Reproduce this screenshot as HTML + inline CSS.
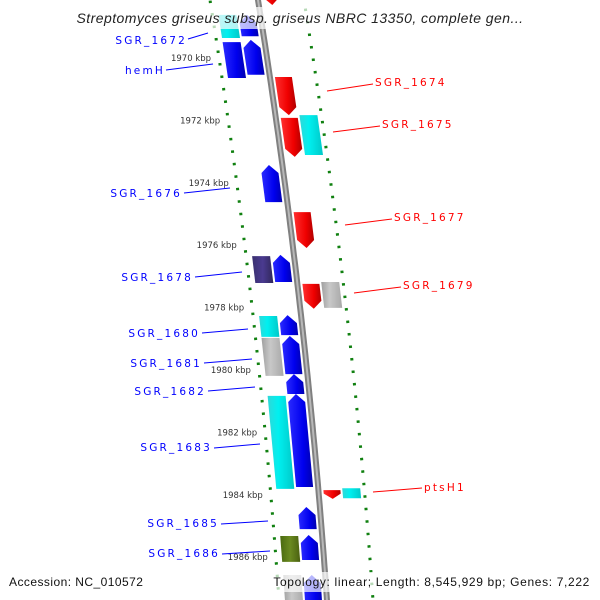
<!DOCTYPE html>
<html><head><meta charset="utf-8">
<style>
html,body{margin:0;padding:0;background:#fff;}
svg{display:block;font-family:"Liberation Sans",sans-serif;}
.lb{font-family:"DejaVu Sans",sans-serif;font-size:10.5px;letter-spacing:2.2px;}
.kb{font-family:"DejaVu Sans",sans-serif;font-size:8.5px;fill:#333;}
</style></head>
<body>
<svg id="map" width="600" height="600" viewBox="0 0 600 600" xmlns="http://www.w3.org/2000/svg">
<defs>
<linearGradient id="g-blue" x1="0" x2="1"><stop offset="0" stop-color="#2a2aff"/><stop offset="0.6" stop-color="#0000ee"/><stop offset="1" stop-color="#0000b0"/></linearGradient>
<linearGradient id="g-red" x1="0" x2="1"><stop offset="0" stop-color="#ff3030"/><stop offset="0.6" stop-color="#f00000"/><stop offset="1" stop-color="#b00000"/></linearGradient>
<linearGradient id="g-cyan" x1="0" x2="1"><stop offset="0" stop-color="#30d8d8"/><stop offset="0.4" stop-color="#00f0f0"/><stop offset="1" stop-color="#00c8c8"/></linearGradient>
<linearGradient id="g-gray" x1="0" x2="1"><stop offset="0" stop-color="#a0a0a0"/><stop offset="0.4" stop-color="#c8c8c8"/><stop offset="1" stop-color="#a8a8a8"/></linearGradient>
<linearGradient id="g-purple" x1="0" x2="1"><stop offset="0" stop-color="#3a3070"/><stop offset="0.5" stop-color="#4a3a90"/><stop offset="1" stop-color="#30285a"/></linearGradient>
<linearGradient id="g-olive" x1="0" x2="1"><stop offset="0" stop-color="#4a6a10"/><stop offset="0.5" stop-color="#6a8a20"/><stop offset="1" stop-color="#4a6010"/></linearGradient>
</defs>
<g id="ticks"></g>
<g id="backbone"></g>
<g id="genes"></g>
<g id="labels">
<g fill="#0000ff" stroke="#0000ff" class="lb">
<line x1="188" y1="39" x2="208" y2="33" stroke-width="1"/><text x="187" y="44" text-anchor="end" stroke="none">SGR_1672</text>
<line x1="166" y1="70" x2="213" y2="64"/><text x="165" y="74" text-anchor="end" stroke="none">hemH</text>
<line x1="184" y1="193" x2="230" y2="188"/><text x="182" y="197" text-anchor="end" stroke="none">SGR_1676</text>
<line x1="195" y1="277" x2="242" y2="272"/><text x="193" y="281" text-anchor="end" stroke="none">SGR_1678</text>
<line x1="202" y1="333" x2="248" y2="329"/><text x="200" y="337" text-anchor="end" stroke="none">SGR_1680</text>
<line x1="204" y1="363" x2="252" y2="359"/><text x="202" y="367" text-anchor="end" stroke="none">SGR_1681</text>
<line x1="208" y1="391" x2="255" y2="387"/><text x="206" y="395" text-anchor="end" stroke="none">SGR_1682</text>
<line x1="214" y1="448" x2="260" y2="444"/><text x="212" y="451" text-anchor="end" stroke="none">SGR_1683</text>
<line x1="221" y1="524" x2="268" y2="521"/><text x="219" y="527" text-anchor="end" stroke="none">SGR_1685</text>
<line x1="222" y1="554" x2="270" y2="551"/><text x="220" y="557" text-anchor="end" stroke="none">SGR_1686</text>
</g>
<g fill="#ff0000" stroke="#ff0000" class="lb">
<line x1="327" y1="91" x2="373" y2="84"/><text x="375" y="86" stroke="none">SGR_1674</text>
<line x1="333" y1="132" x2="380" y2="126"/><text x="382" y="128" stroke="none">SGR_1675</text>
<line x1="345" y1="225" x2="392" y2="219"/><text x="394" y="221" stroke="none">SGR_1677</text>
<line x1="354" y1="293" x2="401" y2="287"/><text x="403" y="289" stroke="none">SGR_1679</text>
<line x1="373" y1="492" x2="422" y2="488"/><text x="424" y="491" stroke="none">ptsH1</text>
</g>
</g>
<rect x="70" y="7" width="465" height="22" fill="#fff" opacity="0.7"/>
<text x="300" y="23" text-anchor="middle" font-size="14" font-style="italic" letter-spacing="0.45" fill="#222">Streptomyces griseus subsp. griseus NBRC 13350, complete gen...</text>
<rect x="268" y="572" width="328" height="20" fill="#fff" opacity="0.7"/>
<text x="9" y="586" font-size="12" letter-spacing="0.45" fill="#111">Accession: NC_010572</text>
<text x="590" y="586" font-size="12" letter-spacing="0.65" fill="#111" text-anchor="end">Topology: linear; Length: 8,545,929 bp; Genes: 7,222</text>
</svg>
<script>
const geneStart=[1967.7,1968.62,1968.62,1969.49,1969.42,1970.61,1971.92,1971.83,1973.43,1974.94,1976.35,1976.31,1977.24,1977.18,1978.27,1978.24,1978.97,1978.91,1980.13,1980.83,1980.77,1983.85,1983.79,1984.39,1985.32,1985.29,1986.57,1986.57];
const geneEnd=[1968.3,1969.36,1969.30,1970.64,1970.54,1971.83,1973.17,1973.11,1974.62,1976.09,1977.21,1977.18,1978.04,1978.01,1978.94,1978.88,1980.19,1980.13,1980.77,1983.81,1983.75,1984.13,1984.11,1985.10,1986.15,1986.09,1988.0,1988.0];
const geneLane=[1,-2,-1,-2,-1,1,1,2,-1,1,-2,-1,1,2,-2,-1,-2,-1,-1,-2,-1,1,2,-1,-2,-1,-2,-1];
const geneStrand=[1,0,-1,0,-1,1,1,0,-1,1,0,-1,1,0,0,-1,0,-1,-1,0,-1,1,0,-1,0,-1,0,-1];
const geneType=["red","cyan","blue","blue","blue","red","red","cyan","blue","red","purple","blue","red","gray","cyan","blue","gray","blue","blue","cyan","blue","red","cyan","blue","olive","blue","gray","blue"];
const tickLabels=[1970,1972,1974,1976,1978,1980,1982,1984,1986];
const NS="http://www.w3.org/2000/svg";
function yOf(k){return 58+(k-1970)*31.2;}
function bb(y){return 258+0.1602*y-7.54e-5*y*y;}
const laneOff={"-2":[-42,-24],"-1":[-22,-5],"1":[5,22],"2":[24,42]};
const gG=document.getElementById('genes');
for(let i=0;i<geneStart.length;i++){
  const y1=yOf(geneStart[i]),y2=yOf(geneEnd[i]);
  const o=laneOff[String(geneLane[i])];
  const L=y=>bb(y)+o[0],R=y=>bb(y)+o[1],C=y=>bb(y)+(o[0]+o[1])/2;
  const h=Math.min(8,(y2-y1)*0.6);
  let pts;
  if(geneStrand[i]===-1){pts=[[C(y1),y1],[R(y1+h),y1+h],[R(y2),y2],[L(y2),y2],[L(y1+h),y1+h]];}
  else if(geneStrand[i]===1){pts=[[L(y1),y1],[R(y1),y1],[R(y2-h),y2-h],[C(y2),y2],[L(y2-h),y2-h]];}
  else{pts=[[L(y1),y1],[R(y1),y1],[R(y2),y2],[L(y2),y2]];}
  const p=document.createElementNS(NS,'polygon');
  p.setAttribute('points',pts.map(a=>a[0].toFixed(1)+','+a[1].toFixed(1)).join(' '));
  p.setAttribute('fill','url(#g-'+geneType[i]+')');
  
  
  gG.appendChild(p);
}
const bG=document.getElementById('backbone');
let d='';for(let y=-5;y<=605;y+=10){d+=(y===-5?'M':'L')+bb(y).toFixed(1)+','+y;}
[[6,'#808080'],[2,'#b8b8b8']].forEach(s=>{const p=document.createElementNS(NS,'path');p.setAttribute('d',d);p.setAttribute('fill','none');p.setAttribute('stroke',s[1]);p.setAttribute('stroke-width',s[0]);


bG.appendChild(p);});
const tG=document.getElementById('ticks');
function Lx(y){return bb(y)-48;}
function Rx(y){return bb(y)+46;}
function dash(x,y,len,w){const r=document.createElementNS(NS,'line');r.setAttribute('x1',x-len/2);r.setAttribute('x2',x+len/2);r.setAttribute('y1',y+len*0.05);r.setAttribute('y2',y-len*0.05);r.setAttribute('stroke','#108010');r.setAttribute('stroke-width',w);


tG.appendChild(r);}
for(let k=1968.2;k<=1988.2;k+=0.4){
  const y=yOf(k);const major=Math.abs(((k-1970)/2)-Math.round((k-1970)/2))<0.01;
  if(y>-5&&y<600){dash(Lx(y),y,major?7:3,2.5);}
  const yr=y-17;
  if(yr>-5&&yr<600){dash(Rx(yr),yr,major?7:3,2.5);}
}
tickLabels.forEach(k=>{const y=yOf(k);const t=document.createElementNS(NS,'text');t.setAttribute('x',Lx(y)-8);t.setAttribute('y',y+3);t.setAttribute('text-anchor','end');t.setAttribute('class','kb');t.textContent=k+' kbp';


tG.appendChild(t);});
</script>
</body></html>
